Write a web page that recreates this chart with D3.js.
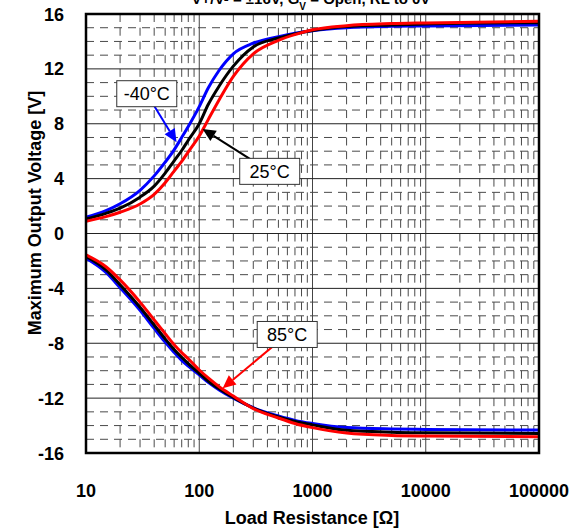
<!DOCTYPE html>
<html>
<head>
<meta charset="utf-8">
<script src="https://cdn.jsdelivr.net/npm/d3@7"></script>
<style>
  body { margin: 0; background: #fff; }
  svg { display: block; font-family: Arial, "Liberation Sans", sans-serif; }
</style>
</head>
<body>
<svg width="571" height="528"></svg>
<script>
// Load resistance values (ohms) where curves were read
var resistance = [10, 15, 20, 30, 40, 50, 60, 70, 80, 100, 120, 150, 200, 300, 500, 700, 1000, 2000, 5000, 10000, 100000];

// Positive swing
var posM40 = [1.18, 1.67, 2.17, 3.15, 4.2, 5.2, 6.1, 7.0, 7.8, 9.25, 10.6, 11.9, 13.1, 13.87, 14.35, 14.6, 14.78, 15.0, 15.1, 15.13, 15.2];
var pos25  = [1.06, 1.47, 1.85, 2.65, 3.45, 4.4, 5.3, 6.05, 6.8, 8.0, 9.4, 10.75, 12.2, 13.6, 14.25, 14.55, 14.8, 15.08, 15.2, 15.27, 15.37];
var pos85  = [0.89, 1.23, 1.55, 2.15, 2.85, 3.7, 4.55, 5.25, 5.95, 7.1, 8.3, 9.75, 11.45, 13.1, 14.08, 14.5, 14.85, 15.15, 15.3, 15.35, 15.47];

// Negative swing
var negM40 = [-1.81, -2.84, -3.95, -5.6, -6.92, -7.92, -8.67, -9.25, -9.67, -10.31, -10.85, -11.4, -12.0, -12.7, -13.3, -13.62, -13.85, -14.15, -14.25, -14.28, -14.33];
var neg25  = [-1.68, -2.65, -3.73, -5.37, -6.67, -7.68, -8.45, -9.02, -9.48, -10.19, -10.75, -11.32, -11.95, -12.72, -13.38, -13.7, -13.95, -14.35, -14.48, -14.52, -14.57];
var neg85  = [-1.56, -2.42, -3.38, -5.0, -6.3, -7.3, -8.1, -8.68, -9.13, -9.95, -10.53, -11.17, -11.85, -12.76, -13.45, -13.85, -14.15, -14.55, -14.72, -14.76, -14.81];

var xTicks = [10, 100, 1000, 10000, 100000];
var yTicks = [-16, -12, -8, -4, 0, 4, 8, 12, 16];

// label text, label position (ohm, V), arrow tip (ohm, V), colour
var notes = [
  {text: "-40°C", at: [34.4, 10.19], tip: [63, 6.65], color: "#0000ff"},
  {text: "25°C",  at: [419, 4.53],   tip: [107, 7.62], color: "#000000"},
  {text: "85°C",  at: [598, -7.36],  tip: [161, -11.28], color: "#ff0000"}
];

var margin = {top: 14, right: 32, bottom: 75, left: 86},
    width = 571 - margin.left - margin.right,
    height = 528 - margin.top - margin.bottom;

var x = d3.scaleLog().domain([10, 100000]).range([0, width]);
var y = d3.scaleLinear().domain([-16, 16]).range([height, 0]);

var svg = d3.select("svg");
var g = svg.append("g")
    .attr("transform", "translate(" + margin.left + "," + margin.top + ")");

// title (cut off at top edge in the original)
svg.append("text")
    .attr("x", 311)
    .attr("y", 4)
    .attr("text-anchor", "middle")
    .style("font-size", "15px")
    .style("font-weight", "bold")
    .html('V+/V- = ±16V, G<tspan baseline-shift="sub" font-size="10px">V</tspan> = Open, RL to 0V');

// minor grid
var minorX = [];
for (var d = 10; d < 100000; d *= 10) {
  for (var k = 2; k <= 9; k++) minorX.push(d * k);
}
var minorY = d3.range(-15, 16).filter(function(v) { return v % 4 !== 0; });

g.selectAll(".minor-x").data(minorX).enter().append("line")
    .attr("x1", function(d) { return x(d); })
    .attr("x2", function(d) { return x(d); })
    .attr("y1", 0).attr("y2", height)
    .attr("stroke", "#4a4a4a").attr("stroke-width", 1)
    .attr("stroke-dasharray", "8,5.72");

g.selectAll(".minor-y").data(minorY).enter().append("line")
    .attr("x1", 0).attr("x2", width)
    .attr("y1", function(d) { return y(d); })
    .attr("y2", function(d) { return y(d); })
    .attr("stroke", "#4a4a4a").attr("stroke-width", 1)
    .attr("stroke-dasharray", "8,6");

// major grid
g.selectAll(".major-x").data(xTicks.slice(1, -1)).enter().append("line")
    .attr("x1", function(d) { return x(d); })
    .attr("x2", function(d) { return x(d); })
    .attr("y1", 0).attr("y2", height)
    .attr("stroke", "#444").attr("stroke-width", 1);

g.selectAll(".major-y").data(yTicks.slice(1, -1)).enter().append("line")
    .attr("x1", 0).attr("x2", width)
    .attr("y1", function(d) { return y(d); })
    .attr("y2", function(d) { return y(d); })
    .attr("stroke", "#222").attr("stroke-width", 1);

// curves
var line = d3.line()
    .x(function(d) { return x(d[0]); })
    .y(function(d) { return y(d[1]); })
    .curve(d3.curveMonotoneX);

var series = [
  {v: posM40, c: "#0000ff"}, {v: pos25, c: "#000000"}, {v: pos85, c: "#ff0000"},
  {v: negM40, c: "#0000ff"}, {v: neg25, c: "#000000"}, {v: neg85, c: "#ff0000"}
];
series.forEach(function(s) {
  g.append("path")
      .attr("d", line(resistance.map(function(r, i) { return [r, s.v[i]]; })))
      .attr("fill", "none")
      .attr("stroke", s.c)
      .attr("stroke-width", 3);
});

// annotations
notes.forEach(function(n) {
  var x0 = x(n.at[0]), y0 = y(n.at[1]),
      x1 = x(n.tip[0]), y1 = y(n.tip[1]);
  var ang = Math.atan2(y1 - y0, x1 - x0);
  var len = 13, half = 6;
  var bx = x1 - len * Math.cos(ang), by = y1 - len * Math.sin(ang);
  g.append("line")
      .attr("x1", x0).attr("y1", y0)
      .attr("x2", bx).attr("y2", by)
      .attr("stroke", n.color).attr("stroke-width", 2);
  g.append("path")
      .attr("d", "M" + x1 + "," + y1 +
                 "L" + (bx + half * Math.sin(ang)) + "," + (by - half * Math.cos(ang)) +
                 "L" + (bx - half * Math.sin(ang)) + "," + (by + half * Math.cos(ang)) + "Z")
      .attr("fill", n.color);
  g.append("rect")
      .attr("x", x0 - 30).attr("y", y0 - 13)
      .attr("width", 60).attr("height", 26)
      .attr("fill", "#fff").attr("stroke", "#333").attr("stroke-width", 1);
  g.append("text")
      .attr("x", x0).attr("y", y0 + 6.5)
      .attr("text-anchor", "middle")
      .style("font-size", "18px")
      .text(n.text);
});

// frame
g.append("rect")
    .attr("width", width).attr("height", height)
    .attr("fill", "none").attr("stroke", "#000").attr("stroke-width", 2.5);

// tick labels
g.selectAll(".ylab").data(yTicks).enter().append("text")
    .attr("x", -22)
    .attr("y", function(d) { return y(d) + 6.5; })
    .attr("text-anchor", "end")
    .style("font-size", "18px").style("font-weight", "bold")
    .text(function(d) { return d; });

g.selectAll(".xlab").data(xTicks).enter().append("text")
    .attr("x", function(d) { return x(d); })
    .attr("y", height + 44)
    .attr("text-anchor", "middle")
    .style("font-size", "18px").style("font-weight", "bold")
    .text(function(d) { return d; });

// axis titles
svg.append("text")
    .attr("x", 312)
    .attr("y", 524)
    .attr("text-anchor", "middle")
    .style("font-size", "18px").style("font-weight", "bold")
    .text("Load Resistance [Ω]");

svg.append("text")
    .attr("transform", "rotate(-90)")
    .attr("x", -213)
    .attr("y", 41)
    .attr("text-anchor", "middle")
    .style("font-size", "18px").style("font-weight", "bold")
    .text("Maximum Output Voltage [V]");
</script>
</body>
</html>
